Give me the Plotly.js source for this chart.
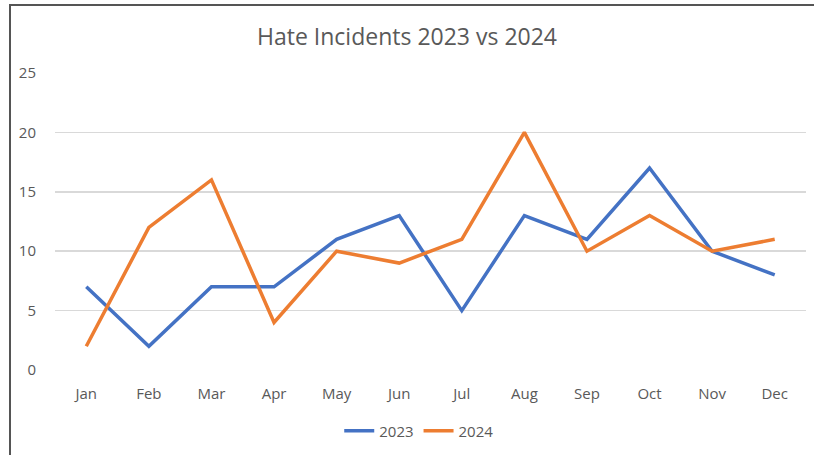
<!DOCTYPE html>
<html>
<head>
<meta charset="utf-8">
<script src="https://cdn.plot.ly/plotly-3.0.1.min.js"></script>
<style>
html,body{margin:0;padding:0;background:#fff;}
#wrap{position:relative;width:814px;height:455px;overflow:hidden;}
#chart{width:814px;height:455px;}
#frame{position:absolute;left:9px;top:4px;width:900px;height:500px;border-left:2px solid #555;border-top:2px solid #555;pointer-events:none;}
</style>
</head>
<body>
<div id="wrap"><div id="chart"></div><div id="frame"></div></div>
<script>
const months = ["Jan","Feb","Mar","Apr","May","Jun","Jul","Aug","Sep","Oct","Nov","Dec"];
const incidents2023 = [7,2,7,7,11,13,5,13,11,17,10,8];
const incidents2024 = [2,12,16,4,10,9,11,20,10,13,10,11];
const yTicks = [0,5,10,15,20,25];

const font = "'Open Sans', 'Noto Sans', sans-serif";
const traces = [
  {x: months, y: incidents2023, name: "2023", type: "scatter", mode: "lines",
   line: {color: "#4472C4", width: 3.5}},
  {x: months, y: incidents2024, name: "2024", type: "scatter", mode: "lines",
   line: {color: "#ED7D31", width: 3.5}}
];
const layout = {
  width: 814, height: 455,
  margin: {l: 55, r: 8, t: 73, b: 85},
  paper_bgcolor: "#fff", plot_bgcolor: "#fff",
  font: {family: font, color: "#595959", size: 14},
  title: {text: "Hate Incidents 2023 vs 2024", font: {size: 23, color: "#595959", family: font},
          x: 0.5, xanchor: "center", y: 1 - 37/455, yanchor: "middle", yref: "container"},
  xaxis: {type: "category", range: [-0.5, 11.5], showgrid: false, zeroline: false, showline: false,
          ticks: "outside", ticklen: 10, tickcolor: "rgba(0,0,0,0)", tickfont: {size: 15, color: "#595959"}, fixedrange: true},
  yaxis: {range: [0, 25], tickvals: yTicks, showgrid: true, gridcolor: "#d9d9d9", gridwidth: 1.5,
          zeroline: false, showline: false, ticks: "outside", ticklen: 15, tickcolor: "rgba(0,0,0,0)",
          tickfont: {size: 15, color: "#595959"}, fixedrange: true},
  showlegend: true,
  legend: {orientation: "h", x: 0.485, xanchor: "center", xref: "paper", y: 1 - 431/455, yref: "container", yanchor: "middle",
           font: {size: 15, color: "#595959"}, tracegroupgap: 0},
};
Plotly.newPlot("chart", traces, layout, {displayModeBar: false, staticPlot: true});
</script>
</body>
</html>
